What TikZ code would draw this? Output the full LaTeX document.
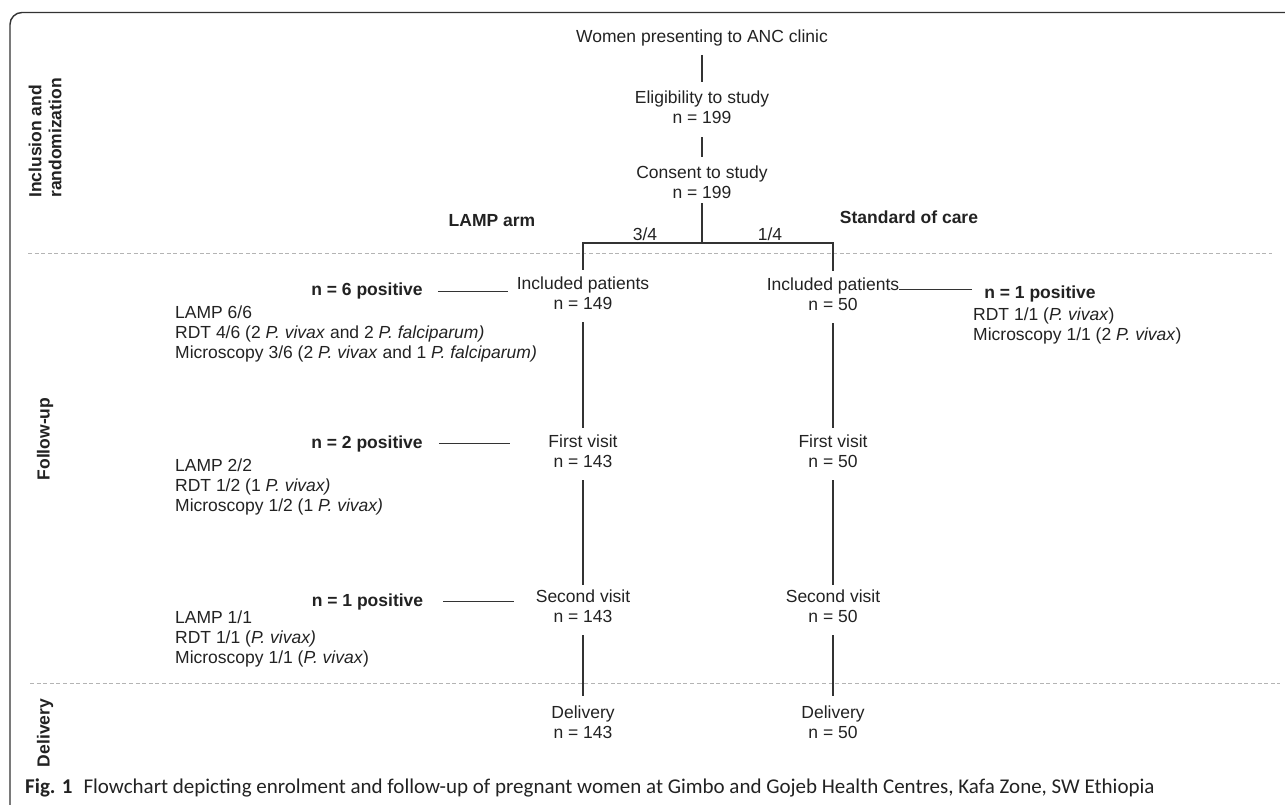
\documentclass[tikz,border=0pt]{standalone}
\usepackage{fontspec}
\setmainfont{Liberation Sans}
\newfontfamily\capfont{Carlito}
\newcommand\fsz{\fontsize{17.5}{20}\selectfont}
\definecolor{txtc}{HTML}{222222}
\definecolor{linec}{HTML}{333333}
\definecolor{sepc}{HTML}{B4B4B4}
\begin{document}
\begin{tikzpicture}[x=1pt,y=-1pt,
  every node/.style={inner sep=0pt, text=txtc},
  txt/.style={font=\fsz, align=center},
  bld/.style={font=\fsz\bfseries, align=center},
  lst/.style={font=\fsz, align=left, anchor=west},
  sidelbl/.style={font=\fsz\bfseries, rotate=90, align=left},
  link/.style={draw=linec, line width=1.1pt},
  sepline/.style={draw=sepc, line width=1pt, dash pattern=on 4pt off 2.6pt}]
\useasboundingbox (0,0) rectangle (1285,805);
% frame
\draw[linec, line width=1.4pt, rounded corners=12pt] (10,812) -- (10,12.5) -- (1292,12.5);
% separators
\draw[sepline] (28,253) -- (1272,253);
\draw[sepline] (30,683) -- (1280,683);
% phase labels
\node[sidelbl] (phIncl) at (45,138) {Inclusion and\\randomization};
\node[sidelbl] (phFollow) at (45,439) {Follow-up};
\node[sidelbl] (phDeliv) at (45,733) {Delivery};
% top chain
\node[txt] (women) at (702,38.4) {Women presenting to ANC clinic};
\node[txt] (elig) at (702,107.6) {Eligibility to study\\n = 199};
\node[txt] (consent) at (702,182.6) {Consent to study\\n = 199};
\node[bld] (lamparm) at (492,220.5) {LAMP arm};
\node[bld] (socarm) at (909,217.6) {Standard of care};
\node[txt] (fracL) at (645,234.7) {3/4};
\node[txt] (fracR) at (770,234.7) {1/4};
\coordinate (split) at (702,243);
% arms
\node[txt] (inclL) at (583,293.5) {Included patients\\n = 149};
\node[txt] (inclR) at (833,294.5) {Included patients\\n = 50};
\node[txt] (firstL) at (583,451.6) {First visit\\n = 143};
\node[txt] (firstR) at (833,451.6) {First visit\\n = 50};
\node[txt] (secondL) at (583,606.6) {Second visit\\n = 143};
\node[txt] (secondR) at (833,606.6) {Second visit\\n = 50};
\node[txt] (delivL) at (583,722.6) {Delivery\\n = 143};
\node[txt] (delivR) at (833,722.6) {Delivery\\n = 50};
% positives
\node[bld] (pos6) at (367,291.4) {n = 6 positive};
\node[lst] (list6) at (175,334.4) {LAMP 6/6\\RDT 4/6 (2 \textit{P. vivax} and 2 \textit{P. falciparum)}\\Microscopy 3/6 (2 \textit{P. vivax} and 1 \textit{P. falciparum)}};
\node[bld] (pos2) at (367,443.5) {n = 2 positive};
\node[lst] (list2) at (175,486.5) {LAMP 2/2\\RDT 1/2 (1 \textit{P. vivax)}\\Microscopy 1/2 (1 \textit{P. vivax)}};
\node[bld] (pos1) at (367.5,601.5) {n = 1 positive};
\node[lst] (list1) at (175,639) {LAMP 1/1\\RDT 1/1 (\textit{P. vivax)}\\Microscopy 1/1 (\textit{P. vivax})};
\node[bld] (posR) at (1040,293.5) {n = 1 positive};
\node[lst] (listR) at (973,326) {RDT 1/1 (\textit{P. vivax})\\Microscopy 1/1 (2 \textit{P. vivax})};
% caption
\node[anchor=base west, font=\capfont\fontsize{21}{24}\selectfont] (caption) at (25,793)
  {\textbf{Fig. 1}\hspace{11pt}Flowchart depicting enrolment and follow-up of pregnant women at Gimbo and Gojeb Health Centres, Kafa Zone, SW Ethiopia};
% links
\draw[link, shorten <=8pt, shorten >=9pt] (women) -- (elig);
\draw[link, shorten <=13pt, shorten >=9pt] (elig) -- (consent);
\draw[link, shorten <=4pt] (consent) -- (split);
\draw[link, shorten >=7pt] (split) -| (inclL);
\draw[link, shorten >=7pt] (split) -| (inclR);
\draw[link, shorten <=12pt, shorten >=7pt] (inclL) -- (firstL);
\draw[link, shorten <=12pt, shorten >=7pt] (inclR) -- (firstR);
\draw[link, shorten <=12pt, shorten >=5pt] (firstL) -- (secondL);
\draw[link, shorten <=12pt, shorten >=5pt] (firstR) -- (secondR);
\draw[link, shorten <=12pt, shorten >=10pt] (secondL) -- (delivL);
\draw[link, shorten <=12pt, shorten >=10pt] (secondR) -- (delivR);
\draw[link, shorten <=15pt, shorten >=9pt] (pos6.east) -- (pos6.east -| inclL.west);
\draw[link, shorten <=16pt, shorten >=38pt] (pos2.east) -- (pos2.east -| firstL.west);
\draw[link, shorten <=20pt, shorten >=22pt] (pos1.east) -- (pos1.east -| secondL.west);
\draw[link, shorten <=12pt] ([yshift=4pt]posR.west) -- ([yshift=4pt]posR.west -| inclR.east);
\end{tikzpicture}
\end{document}
